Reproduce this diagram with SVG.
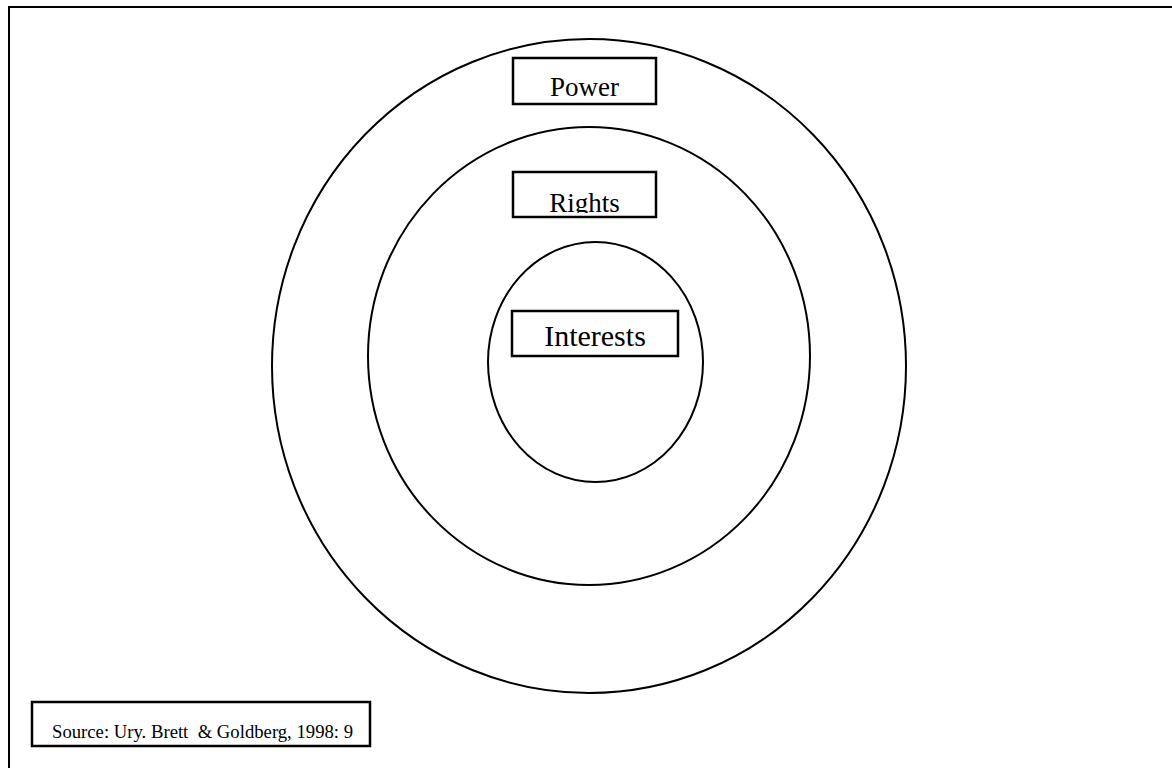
<svg xmlns="http://www.w3.org/2000/svg" width="1172" height="768" viewBox="0 0 1172 768">
<style>
.ln{fill:none;stroke:#000;stroke-width:2}
.bx{fill:none;stroke:#000;stroke-width:2.5}
.t{font-family:"Liberation Serif","Times New Roman",serif;fill:#000}
</style>
<defs>
<clipPath id="cR"><rect x="513" y="172" width="143" height="41"/></clipPath>
<clipPath id="cS"><rect x="32" y="702" width="338" height="40"/></clipPath>
</defs>
<rect width="1172" height="768" fill="#fff"/>
<g id="frame"><path class="ln" d="M9,775 V7 H1180"/></g>
<g id="power-ring"><ellipse class="ln" cx="589" cy="366" rx="317" ry="327"/></g>
<g id="rights-ring"><ellipse class="ln" cx="589" cy="356" rx="221" ry="229"/></g>
<g id="interests-ring"><ellipse class="ln" cx="595.5" cy="362" rx="107.5" ry="120"/></g>
<g id="power">
<rect x="513" y="58" width="143" height="46" fill="#fff" stroke="#000" stroke-width="2.5"/>
<text class="t" x="584.5" y="96" font-size="27" text-anchor="middle">Power</text>
</g>
<g id="rights">
<rect x="513" y="172" width="143" height="45" fill="#fff"/>
<text class="t" x="584.5" y="212" font-size="27" text-anchor="middle" clip-path="url(#cR)">Rights</text>
<rect class="bx" x="513" y="172" width="143" height="45"/>
</g>
<g id="interests">
<rect x="512" y="311" width="166" height="45" fill="#fff" stroke="#000" stroke-width="2.5"/>
<text class="t" x="595" y="346" font-size="30" text-anchor="middle">Interests</text>
</g>
<g id="source">
<rect x="32" y="702" width="338" height="44" fill="#fff"/>
<text class="t" x="52" y="738" font-size="18.7" xml:space="preserve" clip-path="url(#cS)">Source: Ury. Brett  &amp; Goldberg, 1998: 9</text>
<rect class="bx" x="32" y="702" width="338" height="44"/>
</g>
</svg>
